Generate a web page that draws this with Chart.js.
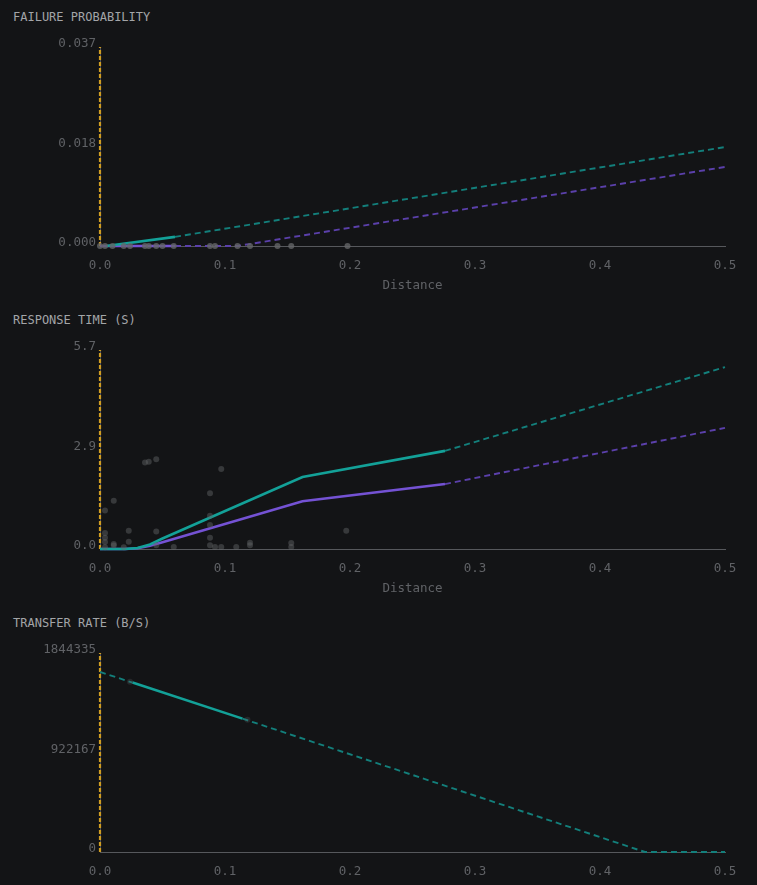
<!DOCTYPE html>
<html>
<head>
<meta charset="utf-8">
<script src="https://cdn.jsdelivr.net/npm/chart.js@4/dist/chart.umd.min.js"></script>
<style>
  html, body { margin: 0; padding: 0; background: #131416; }
  .panel { position: relative; width: 757px; height: 303px; }
  .panel h2 {
    position: absolute; left: 13px; top: 10px; margin: 0;
    font: 12px/14px "DejaVu Sans Mono", monospace; font-weight: normal;
    color: #a3a5a8; letter-spacing: 0;
  }
  .box { position: absolute; left: 0; top: 30px; width: 757px; height: 273px; }
</style>
</head>
<body>
<div class="panel"><h2>FAILURE PROBABILITY</h2><div class="box"><canvas id="failChart"></canvas></div></div>
<div class="panel"><h2>RESPONSE TIME (S)</h2><div class="box"><canvas id="respChart"></canvas></div></div>
<div class="panel"><h2>TRANSFER RATE (B/S)</h2><div class="box"><canvas id="rateChart"></canvas></div></div>
<script>
const xTicks = [0, 0.1, 0.2, 0.3, 0.4, 0.5];

// failure probability
const failMax = 0.037;
const failTickLabels = ["0.000", "0.018", "0.037"];
const failSamples = [[0,0],[0.004,0],[0.01,0],[0.019,0],[0.024,0],[0.036,0],[0.039,0],[0.045,0],[0.05,0],[0.059,0],[0.088,0],[0.092,0],[0.11,0],[0.12,0],[0.142,0],[0.153,0],[0.198,0]];
const failTealSolid = [[0.005,0],[0.06,0.0017]];
const failTealDash = [[0.06,0.0017],[0.5,0.0184]];
const failPurpleSolid = [[0,0],[0.06,0]];
const failPurpleDash = [[0.06,0],[0.11,0],[0.5,0.0147]];

// response time
const respMax = 5.7;
const respTickLabels = ["0.0", "2.9", "5.7"];
const respSamples = [[0.004,1.10],[0.004,0.46],[0.004,0.32],[0.004,0.2],[0.004,0.05],[0.011,1.38],[0.011,0.14],[0.011,0.1],[0.019,0.05],[0.023,0.52],[0.023,0.21],[0.036,2.48],[0.039,2.50],[0.045,2.57],[0.045,0.50],[0.045,0.11],[0.059,0.06],[0.088,1.60],[0.088,0.95],[0.088,0.69],[0.088,0.32],[0.088,0.11],[0.092,0.06],[0.097,2.29],[0.097,0.06],[0.109,0.06],[0.12,0.18],[0.12,0.11],[0.153,0.17],[0.153,0.06],[0.197,0.52]];
const respTealSolid = [[0,0],[0.02,0],[0.03,0.03],[0.04,0.13],[0.05,0.3],[0.162,2.06],[0.276,2.81]];
const respTealDash = [[0.276,2.81],[0.5,5.21]];
const respPurpleSolid = [[0,0],[0.02,0],[0.03,0.02],[0.04,0.09],[0.05,0.19],[0.162,1.37],[0.276,1.86]];
const respPurpleDash = [[0.276,1.86],[0.5,3.47]];

// transfer rate
const rateMax = 1844335;
const rateTickLabels = ["0", "922167", "1844335"];
const rateSamples = [[0.024,1576900],[0.118,1225000]];
const rateTealSolid = [[0.026,1570000],[0.114,1236000]];
const rateTealDash1 = [[0,1669000],[0.026,1570000]];
const rateTealDash2 = [[0.114,1236000],[0.436,0],[0.5,0]];

const TEAL = "#13a198";
const TEAL_DASH = "#137f7b";
const PURPLE = "#7452d4";
const PURPLE_DASH = "#5b40ab";
const YELLOW = "#cf9d22";
const MONO = "'DejaVu Sans Mono', monospace";

function pts(arr) { return arr.map(p => ({ x: p[0], y: p[1] })); }

function solid(arr, color) {
  return { data: pts(arr), showLine: true, borderColor: color, borderWidth: 2.6, pointRadius: 0, clip: false };
}
function dashed(arr, color) {
  return { data: pts(arr), showLine: true, borderColor: color, borderWidth: 1.9, borderDash: [6, 4], pointRadius: 0, clip: false };
}
function samples(arr, alpha) {
  return { data: pts(arr), showLine: false, pointRadius: 3, pointBorderWidth: 0,
    backgroundColor: "rgba(100,101,104," + alpha + ")", clip: false };
}
function marker(max) {
  return { data: pts([[0, 0], [0, max]]), showLine: true, borderColor: YELLOW, borderWidth: 2.2, borderDash: [4, 2], pointRadius: 0, clip: false };
}

function makeChart(id, max, tickLabels, datasets) {
  return new Chart(document.getElementById(id), {
    type: "scatter",
    data: { datasets: datasets },
    options: {
      responsive: true,
      maintainAspectRatio: false,
      animation: false,
      layout: { padding: { top: 17, right: 32, left: 0, bottom: 0 } },
      plugins: { legend: { display: false }, tooltip: { enabled: false } },
      scales: {
        x: {
          type: "linear", min: 0, max: 0.5,
          afterBuildTicks: a => { a.ticks = xTicks.map(v => ({ value: v })); },
          afterFit: s => { s.height = 57; },
          grid: { display: false, drawTicks: false },
          border: { display: true, color: "#56585c", width: 1 },
          ticks: { color: "#606266", padding: 12, font: { family: MONO, size: 12.5 }, callback: v => v.toFixed(1) },
          title: { display: true, text: "Distance", color: "#606266", padding: { top: 4, bottom: 10 }, font: { family: MONO, size: 12.5 } }
        },
        y: {
          type: "linear", min: 0, max: max,
          afterBuildTicks: a => { a.ticks = [0, max / 2, max].map(v => ({ value: v })); },
          afterFit: s => { s.width = 100; },
          grid: { display: false, drawTicks: false },
          border: { display: true, color: "#56585c", width: 1 },
          ticks: { color: "#606266", padding: 4, labelOffset: -3, font: { family: MONO, size: 12.5 },
            callback: (v, i) => tickLabels[i] }
        }
      }
    }
  });
}

makeChart("failChart", failMax, failTickLabels, [
  samples(failSamples, 0.8),
  dashed(failTealDash, TEAL_DASH),
  dashed(failPurpleDash, PURPLE_DASH),
  solid(failTealSolid, TEAL),
  solid(failPurpleSolid, PURPLE),
  marker(failMax)
]);

makeChart("respChart", respMax, respTickLabels, [
  samples(respSamples, 0.45),
  dashed(respTealDash, TEAL_DASH),
  dashed(respPurpleDash, PURPLE_DASH),
  solid(respTealSolid, TEAL),
  solid(respPurpleSolid, PURPLE),
  marker(respMax)
]);

makeChart("rateChart", rateMax, rateTickLabels, [
  samples(rateSamples, 0.25),
  dashed(rateTealDash1, TEAL_DASH),
  dashed(rateTealDash2, TEAL_DASH),
  solid(rateTealSolid, TEAL),
  marker(rateMax)
]);
</script>
</body>
</html>
